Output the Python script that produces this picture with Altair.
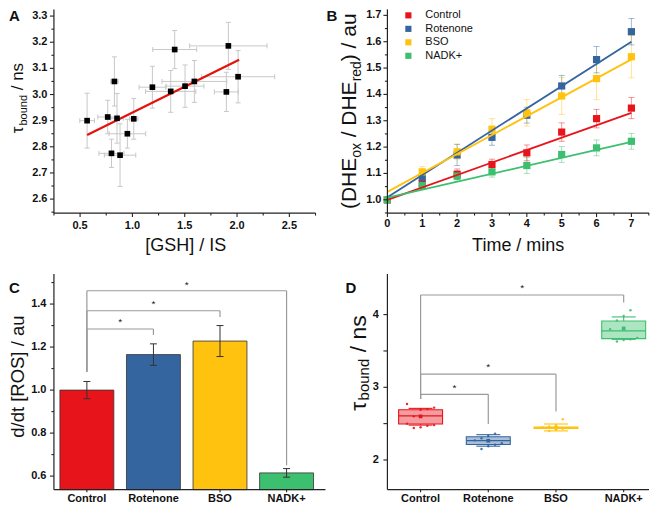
import altair as alt
import pandas as pd

FONT = "Liberation Sans"
INK = "#222222"

# ---------------- Panel A data ----------------
gsh = [0.567, 0.764, 0.828, 0.853, 0.800, 0.882, 0.952, 1.013, 1.191, 1.366, 1.404, 1.503, 1.592, 1.898, 1.917, 2.010]
gsh_err = [0.07, 0.095, 0.035, 0.06, 0.12, 0.15, 0.175, 0.04, 0.127, 0.24, 0.21, 0.18, 0.31, 0.115, 0.37, 0.35]
tau = [2.900, 2.914, 3.050, 2.909, 2.775, 2.768, 2.850, 2.907, 3.028, 3.012, 3.172, 3.032, 3.050, 3.010, 3.186, 3.068]
tau_err = [0.105, 0.064, 0.094, 0.095, 0.054, 0.12, 0.055, 0.078, 0.08, 0.08, 0.073, 0.081, 0.08, 0.075, 0.09, 0.10]
fit_gsh = [0.567, 2.020]
fit_tau = [2.845, 3.133]
a_xticks = [0.5, 1.0, 1.5, 2.0, 2.5]
a_xlabels = ["0.5", "1.0", "1.5", "2.0", "2.5"]
a_xminor = [0.25, 0.75, 1.25, 1.75, 2.25, 2.75]
a_yticks = [2.6, 2.7, 2.8, 2.9, 3.0, 3.1, 3.2, 3.3]
a_ylabels = ["2.6", "2.7", "2.8", "2.9", "3.0", "3.1", "3.2", "3.3"]
a_yminor = [2.55, 2.65, 2.75, 2.85, 2.95, 3.05, 3.15, 3.25]

# ---------------- Panel B data ----------------
series = ["Control", "Rotenone", "BSO", "NADK+"]
colors = ["#E8141C", "#34659F", "#FFC20E", "#3CBF6E"]
times = [0, 1, 2, 3, 4, 5, 6, 7]
ratio_control = [1.000, 1.062, 1.097, 1.134, 1.178, 1.257, 1.308, 1.348]
ratio_rotenone = [1.000, 1.085, 1.170, 1.237, 1.321, 1.432, 1.532, 1.638]
ratio_bso = [1.000, 1.106, 1.182, 1.268, 1.330, 1.394, 1.460, 1.543]
ratio_nadk = [1.000, 1.054, 1.090, 1.106, 1.130, 1.172, 1.197, 1.222]
err_control = [0.01, 0.02, 0.02, 0.02, 0.03, 0.035, 0.035, 0.04]
err_rotenone = [0.01, 0.02, 0.04, 0.03, 0.03, 0.04, 0.05, 0.05]
err_bso = [0.01, 0.02, 0.03, 0.04, 0.05, 0.07, 0.08, 0.08]
err_nadk = [0.01, 0.015, 0.02, 0.02, 0.03, 0.03, 0.03, 0.03]
fit_t = [0, 7]
fit_start = [1.000, 1.010, 1.030, 1.008]
fit_end = [1.330, 1.600, 1.533, 1.220]
b_xlabels = ["0", "1", "2", "3", "4", "5", "6", "7"]
b_xminor = [0.5, 1.5, 2.5, 3.5, 4.5, 5.5, 6.5, 7.5]
b_yticks = [1.0, 1.1, 1.2, 1.3, 1.4, 1.5, 1.6, 1.7]
b_ylabels = ["1.0", "1.1", "1.2", "1.3", "1.4", "1.5", "1.6", "1.7"]
b_yminor = [0.95, 1.05, 1.15, 1.25, 1.35, 1.45, 1.55, 1.65]

# ---------------- Panel C data ----------------
rate = [1.000, 1.165, 1.228, 0.615]
rate_err = [0.040, 0.050, 0.072, 0.020]
c_pair = [1, 2, 3]
c_level = [1.284, 1.369, 1.462]
c_foot_ctrl = [1.085, 1.085, 1.085]
c_foot_other = [1.256, 1.340, 0.650]
c_star = [1.326, 1.411, 1.501]
c_yticks = [0.6, 0.8, 1.0, 1.2, 1.4]
c_ylabels = ["0.6", "0.8", "1.0", "1.2", "1.4"]
c_yminor = [0.7, 0.9, 1.1, 1.3, 1.5]

# ---------------- Panel D data ----------------
d_q1 = [2.495, 2.214, 2.435, 3.670]
d_q3 = [2.691, 2.320, 2.452, 3.913]
d_med = [2.608, 2.265, 2.442, 3.776]
d_mean = [2.600, 2.265, 2.445, 3.810]
d_wlo = [2.480, 2.190, 2.400, 3.660]
d_whi = [2.710, 2.348, 2.495, 3.968]
d_pts = {
    "Control": [2.44, 2.45, 2.47, 2.48, 2.50, 2.60, 2.69, 2.70, 2.72, 2.77],
    "Rotenone": [2.15, 2.19, 2.21, 2.23, 2.27, 2.30, 2.33, 2.36],
    "BSO": [2.40, 2.42, 2.43, 2.44, 2.45, 2.46, 2.48, 2.56],
    "NADK+": [3.63, 3.65, 3.66, 3.68, 3.80, 3.92, 3.98, 4.06],
}
d_pair = [1, 2, 3]
d_level = [2.903, 3.180, 4.270]
d_foot_ctrl = [2.840, 2.840, 2.840]
d_foot_other = [2.495, 2.667, 4.165]
d_star = [3.020, 3.310, 4.400]
d_yticks = [2, 3, 4]
d_ylabels = ["2", "3", "4"]
d_yminor = [2.5, 3.5]

# ---------------- helpers ----------------
color_scale = alt.Scale(domain=series, range=colors)
ONE = pd.DataFrame({"o": [0]})


def q(field, ch, scale):
    if ch == "x":
        return alt.X(field, type="quantitative", scale=scale, axis=None)
    return alt.Y(field, type="quantitative", scale=scale, axis=None)


def text(s, x, y, size, angle=0, align="left", baseline="alphabetic", weight="normal", color="#111111"):
    return alt.Chart(ONE).mark_text(
        text=s, font=FONT, fontSize=size, fontWeight=weight, angle=angle,
        align=align, baseline=baseline, color=color
    ).encode(x=alt.value(x), y=alt.value(y))


def guides(w, h, xs, ys, xt, xl, xm, yt, yl, ym, xlab_y, ylab_x, ymin_len=2.5, xmin_len=2.5, xtick_len=4):
    L = [
        alt.Chart(ONE).mark_rule(color=INK, strokeWidth=1.2).encode(
            x=alt.value(0), x2=alt.value(w), y=alt.value(h)),
        alt.Chart(ONE).mark_rule(color=INK, strokeWidth=1.2).encode(
            x=alt.value(0), y=alt.value(0), y2=alt.value(h)),
    ]
    dx = pd.DataFrame({"v": xt, "lab": xl})
    L.append(alt.Chart(dx).mark_rule(color=INK, strokeWidth=1.1).encode(
        x=q("v", "x", xs), y=alt.value(h), y2=alt.value(h + xtick_len)))
    L.append(alt.Chart(dx).mark_text(font=FONT, fontSize=11, fontWeight="bold", baseline="top",
                                      align="center", color="#111111").encode(
        x=q("v", "x", xs), y=alt.value(xlab_y), text="lab:N"))
    if xm:
        L.append(alt.Chart(pd.DataFrame({"v": xm})).mark_rule(color=INK, strokeWidth=1.1).encode(
            x=q("v", "x", xs), y=alt.value(h), y2=alt.value(h + xmin_len)))
    dy = pd.DataFrame({"v": yt, "lab": yl})
    L.append(alt.Chart(dy).mark_rule(color=INK, strokeWidth=1.1).encode(
        y=q("v", "y", ys), x=alt.value(-4), x2=alt.value(0)))
    L.append(alt.Chart(dy).mark_text(font=FONT, fontSize=11, fontWeight="bold", baseline="middle",
                                      align="right", color="#111111").encode(
        y=q("v", "y", ys), x=alt.value(ylab_x), text="lab:N"))
    if ym:
        L.append(alt.Chart(pd.DataFrame({"v": ym})).mark_rule(color=INK, strokeWidth=1.1).encode(
            y=q("v", "y", ys), x=alt.value(-ymin_len), x2=alt.value(0)))
    return L


anchor = alt.Chart(ONE).mark_rule(opacity=0, strokeWidth=0).encode(
    x=alt.value(-45), x2=alt.value(-45), y=alt.value(0), y2=alt.value(0))

# ================= Panel A =================
WA, HA = 262, 204
xA = alt.Scale(domain=[0.25, 2.75], nice=False, zero=False)
yA = alt.Scale(domain=[2.5466, 3.3256], nice=False, zero=False)
dfA = pd.DataFrame({"gsh": gsh, "tau": tau, "ex": gsh_err, "ey": tau_err})
baseA = alt.Chart(dfA).transform_calculate(
    xlo="datum.gsh - datum.ex", xhi="datum.gsh + datum.ex",
    ylo="datum.tau - datum.ey", yhi="datum.tau + datum.ey")
ERR_A = "#C8C8C8"
a_h = baseA.mark_rule(color=ERR_A, strokeWidth=1).encode(x=q("xlo", "x", xA), x2="xhi:Q", y=q("tau", "y", yA))
a_v = baseA.mark_rule(color=ERR_A, strokeWidth=1).encode(x=q("gsh", "x", xA), y=q("ylo", "y", yA), y2="yhi:Q")
a_caps = []
for f in ["xlo", "xhi"]:
    a_caps.append(baseA.mark_rule(color=ERR_A, strokeWidth=1, yOffset=-2.5, y2Offset=2.5).encode(
        x=q(f, "x", xA), y=q("tau", "y", yA), y2="tau:Q"))
for f in ["ylo", "yhi"]:
    a_caps.append(baseA.mark_rule(color=ERR_A, strokeWidth=1, xOffset=-2.5, x2Offset=2.5).encode(
        x=q("gsh", "x", xA), x2="gsh:Q", y=q(f, "y", yA)))
a_fit = alt.Chart(pd.DataFrame({"x": fit_gsh, "y": fit_tau})).mark_line(color="#E3120B", strokeWidth=2.2).encode(
    x=q("x", "x", xA), y=q("y", "y", yA))
a_pts = baseA.mark_square(size=32, color="#000000", opacity=1).encode(x=q("gsh", "x", xA), y=q("tau", "y", yA))
a_txt = [
    text("A", -45, 12, 15, weight="bold"),
    text("\u03c4", -30.5, 124, 17, angle=270),
    text("bound", -26.5, 116.3, 11, angle=270),
    text("/ ns", -30.5, 81, 17, angle=270),
    text("[GSH] / IS", 132, 242, 18, align="center"),
]
a_g = guides(WA, HA, xA, yA, a_xticks, a_xlabels, a_xminor, a_yticks, a_ylabels, a_yminor, HA + 7, -6.5)
panelA = alt.layer(anchor, a_h, a_v, *a_caps, a_fit, a_pts, *a_g, *a_txt).properties(width=WA, height=HA)

# ================= Panel B =================
WB, HB = 262, 204
xB = alt.Scale(domain=[0, 7.505], nice=False, zero=False)
yB = alt.Scale(domain=[0.9496, 1.7227], nice=False, zero=False)
vals = [ratio_control, ratio_rotenone, ratio_bso, ratio_nadk]
errs = [err_control, err_rotenone, err_bso, err_nadk]
rows = []
for s, v, e in zip(series, vals, errs):
    for t, vv, ee in zip(times, v, e):
        rows.append({"series": s, "time": t, "val": vv, "err": ee})
dfB = pd.DataFrame(rows)
baseB = alt.Chart(dfB).transform_calculate(lo="datum.val - datum.err", hi="datum.val + datum.err")
colB = alt.Color("series:N", scale=color_scale, legend=None)
b_err = baseB.mark_rule(strokeWidth=1, opacity=0.45).encode(
    x=q("time", "x", xB), y=q("lo", "y", yB), y2="hi:Q", color=colB)
b_caps = [baseB.mark_rule(strokeWidth=1, opacity=0.45, xOffset=-3, x2Offset=3).encode(
    x=q("time", "x", xB), x2="time:Q", y=q(f, "y", yB), color=colB) for f in ["lo", "hi"]]
fit_rows = []
for s, a, b in zip(series, fit_start, fit_end):
    fit_rows.append({"series": s, "time": fit_t[0], "val": a})
    fit_rows.append({"series": s, "time": fit_t[1], "val": b})
b_fit = alt.Chart(pd.DataFrame(fit_rows)).mark_line(strokeWidth=1.8).encode(
    x=q("time", "x", xB), y=q("val", "y", yB), color=colB)
b_pts = baseB.mark_square(size=52, opacity=1).encode(x=q("time", "x", xB), y=q("val", "y", yB), color=colB)
b_leg = []
for k, (s, c) in enumerate(zip(series, colors)):
    yy = 6 + 13.5 * k
    b_leg.append(alt.Chart(ONE).mark_square(size=38, color=c, opacity=1).encode(
        x=alt.value(21), y=alt.value(yy)))
    b_leg.append(text(s, 38, yy, 11, baseline="middle"))
b_txt = [
    text("B", -61, 12, 15, weight="bold"),
    text("(DHE", -31, 200, 21, angle=270),
    text("ox", -26, 148.7, 14, angle=270),
    text("/ DHE", -31, 128.1, 21, angle=270),
    text("red", -26, 72.1, 14, angle=270),
    text(") / au", -31, 51.9, 21, angle=270),
    text("Time / mins", 131, 242, 18, align="center"),
]
b_g = guides(WB, HB, xB, yB, times, b_xlabels, b_xminor, b_yticks, b_ylabels, b_yminor, HB + 5, -6)
panelB = alt.layer(b_err, *b_caps, b_pts, b_fit, *b_g, *b_leg, *b_txt).properties(width=WB, height=HB)

# ================= Panel C =================
WC, HC = 272, 216
idx = list(range(len(series)))
xC = alt.Scale(domain=[-0.495, 3.585], nice=False, zero=False)
yC = alt.Scale(domain=[0.5371, 1.5399], nice=False, zero=False)
dfC = pd.DataFrame({"cat": series, "idx": idx, "val": rate, "err": rate_err})
baseC = alt.Chart(dfC).transform_calculate(lo="datum.val - datum.err", hi="datum.val + datum.err")
c_bars = baseC.mark_rect(xOffset=-27, x2Offset=27, stroke="#333333", strokeWidth=0.8).encode(
    x=q("idx", "x", xC), x2="idx:Q", y=q("val", "y", yC), y2=alt.value(HC),
    color=alt.Color("cat:N", scale=color_scale, legend=None))
c_err = baseC.mark_rule(color="#333333", strokeWidth=1).encode(x=q("idx", "x", xC), y=q("lo", "y", yC), y2="hi:Q")
c_caps = [baseC.mark_rule(color="#333333", strokeWidth=1, xOffset=-3.5, x2Offset=3.5).encode(
    x=q("idx", "x", xC), x2="idx:Q", y=q(f, "y", yC)) for f in ["lo", "hi"]]
dfCb = pd.DataFrame({"j": c_pair, "level": c_level, "fc": c_foot_ctrl, "fo": c_foot_other, "star": c_star})
baseCb = alt.Chart(dfCb).transform_calculate(i0="0", mid="(0 + datum.j) / 2")
BR = "#9A9A9A"
c_br = [
    baseCb.mark_rule(color=BR, strokeWidth=1.2).encode(x=q("i0", "x", xC), x2="j:Q", y=q("level", "y", yC)),
    baseCb.mark_rule(color=BR, strokeWidth=1.2).encode(x=q("i0", "x", xC), y=q("fc", "y", yC), y2="level:Q"),
    baseCb.mark_rule(color=BR, strokeWidth=1.2).encode(x=q("j", "x", xC), y=q("fo", "y", yC), y2="level:Q"),
    baseCb.mark_text(text="*", font=FONT, fontSize=10, color="#111111", baseline="alphabetic", dy=5.5).encode(
        x=q("mid", "x", xC), y=q("star", "y", yC)),
]
c_txt = [
    text("C", -45, 19, 15, weight="bold"),
    text("d/dt [ROS] / au", -30, 164, 18.5, angle=270),
]
c_g = guides(WC, HC, xC, yC, idx, series, [], c_yticks, c_ylabels, c_yminor, HC + 3.5, -7.5, xtick_len=2.5)
panelC = alt.layer(*c_br, c_bars, c_err, *c_caps, *c_g, *c_txt).properties(width=WC, height=HC)

# ================= Panel D =================
WD, HD = 262, 216
xD = alt.Scale(domain=[-0.49, 3.374], nice=False, zero=False)
yD = alt.Scale(domain=[1.592, 4.5591], nice=False, zero=False)
dfD = pd.DataFrame({"cat": series, "idx": idx, "q1": d_q1, "q3": d_q3,
                    "med": d_med, "mean": d_mean, "wlo": d_wlo, "whi": d_whi})
baseD = alt.Chart(dfD)
colD = alt.Color("cat:N", scale=color_scale, legend=None)
d_box = baseD.mark_rect(xOffset=-22, x2Offset=22, fillOpacity=0.42, strokeWidth=1.1).encode(
    x=q("idx", "x", xD), x2="idx:Q", y=q("q1", "y", yD), y2="q3:Q",
    fill=alt.Fill("cat:N", scale=color_scale, legend=None),
    stroke=alt.Stroke("cat:N", scale=color_scale, legend=None))
d_wh = [
    baseD.mark_rule(strokeWidth=1.1).encode(x=q("idx", "x", xD), y=q("wlo", "y", yD), y2="q1:Q", color=colD),
    baseD.mark_rule(strokeWidth=1.1).encode(x=q("idx", "x", xD), y=q("q3", "y", yD), y2="whi:Q", color=colD),
]
d_caps = [baseD.mark_rule(strokeWidth=1.1, xOffset=-12, x2Offset=12).encode(
    x=q("idx", "x", xD), x2="idx:Q", y=q(f, "y", yD), color=colD) for f in ["wlo", "whi"]]
d_med_l = baseD.mark_rule(strokeWidth=1.2, xOffset=-22, x2Offset=22).encode(
    x=q("idx", "x", xD), x2="idx:Q", y=q("med", "y", yD), color=colD)
d_mean_p = baseD.mark_square(size=14, opacity=1).encode(x=q("idx", "x", xD), y=q("mean", "y", yD), color=colD)
prow = []
for i, s in enumerate(series):
    for v in d_pts[s]:
        prow.append({"cat": s, "idx": i, "val": v})
dfDp = pd.DataFrame(prow)
d_pts_l = alt.Chart(dfDp).transform_window(rn="row_number()", groupby=["cat"]).transform_calculate(
    xj="datum.idx + ((datum.rn % 5) - 2) * 0.1").mark_circle(size=6, opacity=0.9).encode(
    x=q("xj", "x", xD), y=q("val", "y", yD), color=colD)
dfDb = pd.DataFrame({"j": d_pair, "level": d_level, "fc": d_foot_ctrl, "fo": d_foot_other, "star": d_star})
baseDb = alt.Chart(dfDb).transform_calculate(i0="0", mid="(0 + datum.j) / 2")
d_br = [
    baseDb.mark_rule(color=BR, strokeWidth=1.2).encode(x=q("i0", "x", xD), x2="j:Q", y=q("level", "y", yD)),
    baseDb.mark_rule(color=BR, strokeWidth=1.2).encode(x=q("i0", "x", xD), y=q("fc", "y", yD), y2="level:Q"),
    baseDb.mark_rule(color=BR, strokeWidth=1.2).encode(x=q("j", "x", xD), y=q("fo", "y", yD), y2="level:Q"),
    baseDb.mark_text(text="*", font=FONT, fontSize=10, color="#111111", baseline="alphabetic", dy=5.5).encode(
        x=q("mid", "x", xD), y=q("star", "y", yD)),
]
d_txt = [
    text("D", -42, 19, 15, weight="bold"),
    text("\u03c4", -21, 137, 23, angle=270),
    text("bound", -18, 126.6, 15, angle=270),
    text("/ ns", -21, 78.5, 23, angle=270),
]
d_g = guides(WD, HD, xD, yD, idx, series, [], d_yticks, d_ylabels, d_yminor, HD + 3.5, -8.5, ymin_len=4,
             xtick_len=2.5)
panelD = alt.layer(*d_br, d_box, *d_wh, *d_caps, d_med_l, d_mean_p, d_pts_l, *d_g, *d_txt).properties(
    width=WD, height=HD)

chart = alt.concat(panelA, panelB, panelC, panelD, columns=2, bounds="flush",
                   align={"row": "each", "column": "all"},
                   spacing={"row": 61, "column": 62}).properties(
    padding=0,
).configure_view(stroke=None)

chart.save("out.html", embed_options={"renderer": "svg", "actions": False})
